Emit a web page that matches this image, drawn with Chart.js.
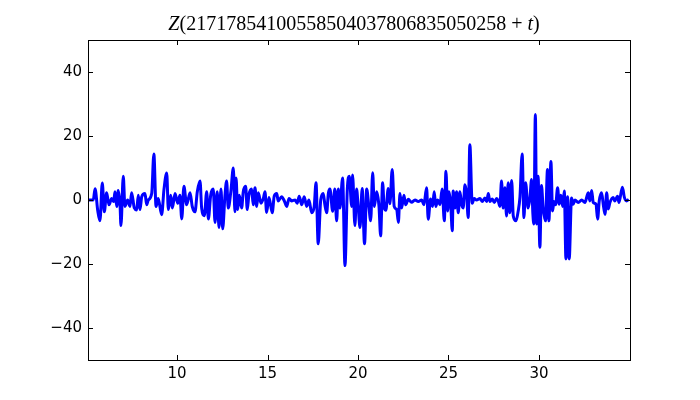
<!DOCTYPE html>
<html>
<head>
<meta charset="utf-8">
<script src="https://cdn.jsdelivr.net/npm/chart.js@4"></script>
<style>
  html, body { margin: 0; padding: 0; background: #fff; }
  #wrap { width: 700px; height: 400px; }
</style>
</head>
<body>
<div id="wrap"><canvas id="zChart" width="700" height="400"></canvas></div>
<script>
// t offsets and Z values
const tValues = [
  5.08, 5.14, 5.37, 5.47, 5.62, 5.74, 5.87, 5.98, 6.11, 6.24, 6.39, 6.50, 6.57, 6.67, 6.75, 6.85, 6.90,
  7.03, 7.12, 7.27, 7.40, 7.49, 7.64, 7.77, 7.86, 7.95, 8.05, 8.23, 8.32, 8.41, 8.60, 8.72, 8.84, 8.96,
  9.15, 9.28, 9.43, 9.52, 9.65, 9.74, 9.89, 10.04, 10.16, 10.26, 10.38, 10.53, 10.72, 10.84, 10.99,
  11.12, 11.27, 11.36, 11.51, 11.64, 11.73, 11.86, 12.00, 12.10, 12.22, 12.32, 12.43, 12.52, 12.65,
  12.74, 12.83, 12.98, 13.11, 13.20, 13.26, 13.35, 13.44, 13.57, 13.66, 13.79, 13.88, 13.97, 14.12,
  14.21, 14.31, 14.40, 14.49, 14.64, 14.77, 14.86, 14.95, 15.08, 15.26, 15.37, 15.51, 15.59, 15.78,
  15.93, 16.06, 16.19, 16.33, 16.52, 16.64, 16.75, 16.89, 17.03, 17.16, 17.29, 17.44, 17.58, 17.68,
  17.80, 17.94, 18.08, 18.17, 18.27, 18.36, 18.45, 18.60, 18.72, 18.82, 18.91, 19.00, 19.15, 19.28,
  19.41, 19.52, 19.65, 19.70, 19.83, 19.92, 20.01, 20.11, 20.23, 20.36, 20.48, 20.60, 20.70, 20.81,
  20.90, 21.03, 21.16, 21.25, 21.36, 21.45, 21.54, 21.67, 21.76, 21.89, 22.00, 22.14, 22.23, 22.32,
  22.41, 22.54, 22.63, 22.78, 22.96, 23.15, 23.33, 23.52, 23.64, 23.79, 23.88, 24.01, 24.12, 24.21,
  24.30, 24.40, 24.53, 24.65, 24.77, 24.86, 24.95, 25.03, 25.12, 25.21, 25.26, 25.36, 25.45, 25.54,
  25.63, 25.73, 25.81, 25.91, 26.00, 26.09, 26.18, 26.31, 26.42, 26.55, 26.74, 26.86, 27.01, 27.11,
  27.20, 27.29, 27.42, 27.53, 27.66, 27.75, 27.84, 27.93, 28.02, 28.12, 28.21, 28.30, 28.39, 28.49,
  28.58, 28.73, 28.85, 28.95, 29.07, 29.17, 29.26, 29.40, 29.50, 29.59, 29.66, 29.72, 29.80, 29.87,
  29.95, 30.05, 30.14, 30.23, 30.36, 30.47, 30.55, 30.66, 30.75, 30.83, 30.92, 31.03, 31.12, 31.21,
  31.31, 31.40, 31.49, 31.58, 31.67, 31.80, 31.89, 31.99, 32.17, 32.36, 32.54, 32.72, 32.81, 32.91,
  33.00, 33.15, 33.24, 33.33, 33.46, 33.55, 33.65, 33.74, 33.83, 33.92, 34.10, 34.19, 34.34, 34.42,
  34.61, 34.72, 34.84, 34.96
];
const zValues = [
  0, 0, 0, 3.5, -3.4, -6.5, 5.3, -3.7, 2.3, -1.5, 0.5, -0.5, 2.6, -2, 3, -1.5, -8,
  7.4, -2, 0, -2, 2.3, -2.5, -3.1, 1.5, -3, 1, 2, -1.5, 0, 2, 14.4, -2, 0.5,
  -4.6, 3.4, 8.4, -3, 1.5, -2.5, 2, -1, 1.5, -5.9, 4.3, -1.5, 2.3, -2, -3.7,
  2.6, 5.9, -2.5, -4.9, 2.6, -5.9, 1.5, 3.4, -7, 2.6, -8.6, 3.4, -9, 1.5,
  5.9, -2.5, 3, 10, -3.7, 6.9, -3, 1.5, -2.5, 2.6, 4.3, -3, 1.5, 3.4,
  -1.5, 3.8, -2, 2.3, -1, 0.5, 2.6, -3.9, 0.8, -4, 1.2, 2, -0.3, 1,
  -0.3, -2, 0.5, -0.3, 0, -1, 1.2, -1.5, 1, -2, 0, -4, -2, 5.4,
  -13.7, 0, 2, -1.5, -4, 2, 3.4, -3.5, 3.4, -6.5, 3.4, -2.5, 6.9, -20.5,
  3.4, 7.4, -2, 7.8, -8, 3.4, -2, -8.6, 3.6, -13.7, 3.4, -2, -6.5, 8.5,
  -2, 2.6, -2, -11.2, 5.4, -2.5, -3.2, 3.6, -1.2, 9.5, -2, -3, -7, 2,
  -2.5, 1.5, -1.5, 0.2, -0.7, 0, -0.5, 0, -1.5, 3.8, -6, 0.3, -2, 2.6,
  -2, 0, -1.5, 3.4, -6.5, 9, -3.4, 2.6, -1, -9.6, 2.8, -2.5, 2.6, -4,
  2.6, -1.5, -2.5, 4.8, 2, -5.5, 17.3, -1, 0.5, 0, 0.5, -0.5, 0.6, -0.5,
  2, -0.5, 0.3, -0.8, 0.5, -0.3, -2, 5.9, -2.5, 3.8, -5, 5.4, -4, 6.1,
  -5, -6.5, -3.5, 1, 14.4, -5.5, 5.4, -2.5, 0.5, 6.4, -4, -7.5, 26.7, -7.5,
  7.4, -14.8, 4.5, -2.5, -6.5, 9.5, -6.5, 12, -3.4, -0.5, -1.5, 3.8, -1.3, 1.5,
  -2, 2.8, -18.4, 1, -18.4, 0.6, -1.3, 0, -0.8, 0, -0.8, 2.3, -0.3, 3,
  -0.8, -1.3, -6, -0.3, 2.3, -1.3, -4.5, 2.3, -2.8, -0.8, 0.8, -0.3, 1.2, -0.8,
  4, 0.8, -0.3, 0.2
];
const xTicks = [10, 15, 20, 25, 30];
const yTicks = [-40, -20, 0, 20, 40];

const points = tValues.map((t, i) => ({ x: t, y: zValues[i] }));

const fmt = v => (v < 0 ? '\u2212' + Math.abs(v) : String(v));

// inward ticks on all four sides plus the box, matplotlib classic look
const frame = {
  id: 'frame',
  afterDatasetsDraw(chart) {
    const { ctx, chartArea: a, scales } = chart;
    ctx.save();
    ctx.strokeStyle = '#000';
    ctx.lineWidth = 1;
    ctx.beginPath();
    xTicks.forEach(v => {
      const px = Math.round(scales.x.getPixelForValue(v)) + 0.5;
      ctx.moveTo(px, a.bottom); ctx.lineTo(px, a.bottom - 5);
      ctx.moveTo(px, a.top); ctx.lineTo(px, a.top + 5);
    });
    yTicks.forEach(v => {
      const py = Math.round(scales.y.getPixelForValue(v)) + 0.5;
      ctx.moveTo(a.left, py); ctx.lineTo(a.left + 5, py);
      ctx.moveTo(a.right, py); ctx.lineTo(a.right - 5, py);
    });
    ctx.stroke();
    ctx.strokeRect(Math.round(a.left) + 0.5, Math.round(a.top) + 0.5,
      Math.round(a.right - a.left), Math.round(a.bottom - a.top));
    ctx.restore();
  }
};

// title with italic Z and t
const mathTitle = {
  id: 'mathTitle',
  afterDraw(chart) {
    const ctx = chart.ctx;
    const parts = [
      ['italic 20px "Liberation Serif"', 'Z'],
      ['20px "Liberation Serif"', '(21717854100558504037806835050258'],
      ['20px "Liberation Serif"', ' + '],
      ['italic 20px "Liberation Serif"', 't'],
      ['20px "Liberation Serif"', ')']
    ];
    ctx.save();
    let total = 0;
    parts.forEach(p => { ctx.font = p[0]; total += ctx.measureText(p[1]).width; });
    let x = 354 - total / 2;
    ctx.fillStyle = '#000';
    ctx.textBaseline = 'alphabetic';
    parts.forEach(p => {
      ctx.font = p[0];
      ctx.fillText(p[1], x, 30);
      x += ctx.measureText(p[1]).width;
    });
    ctx.restore();
  }
};

new Chart(document.getElementById('zChart'), {
  type: 'line',
  data: {
    datasets: [{
      data: points,
      borderColor: '#0000ff',
      borderWidth: 3,
      borderJoinStyle: 'round',
      pointRadius: 0,
      cubicInterpolationMode: 'monotone',
      fill: false
    }]
  },
  options: {
    responsive: false,
    animation: false,
    layout: { padding: { top: 40, right: 70, left: 0, bottom: 0 } },
    plugins: { legend: { display: false }, tooltip: { enabled: false } },
    scales: {
      x: {
        type: 'linear',
        min: 5.08,
        max: 35.03,
        afterBuildTicks: s => { s.ticks = xTicks.map(v => ({ value: v })); },
        afterFit: s => { s.height = 40; },
        grid: { display: false, drawTicks: false },
        border: { display: false },
        ticks: {
          color: '#000',
          padding: 5,
          font: { family: 'DejaVu Sans', size: 15 },
          maxRotation: 0,
          callback: v => fmt(v)
        }
      },
      y: {
        min: -50,
        max: 50,
        afterBuildTicks: s => { s.ticks = yTicks.map(v => ({ value: v })); },
        afterFit: s => { s.width = 88; },
        grid: { display: false, drawTicks: false },
        border: { display: false },
        ticks: {
          color: '#000',
          padding: 6,
          font: { family: 'DejaVu Sans', size: 15 },
          callback: v => fmt(v)
        }
      }
    }
  },
  plugins: [frame, mathTitle]
});
</script>
</body>
</html>
